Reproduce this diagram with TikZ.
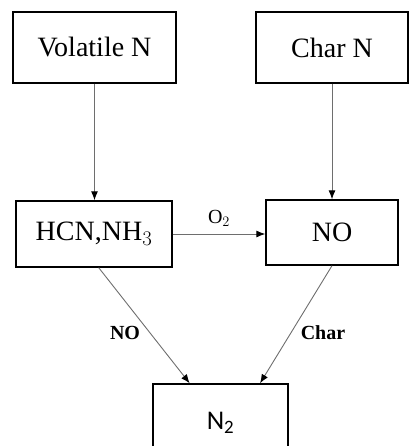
\documentclass[tikz,border=0pt]{standalone}
\usepackage{fontspec}
\setmainfont{Liberation Serif}
\newfontfamily\carl{Carlito}
\usetikzlibrary{arrows.meta,calc}
\tikzset{
  box/.style={draw=black,line width=1.4pt,rectangle,inner sep=0pt,font=\fontsize{28}{32}\selectfont},
  arr/.style={draw={rgb,255:red,110;green,110;blue,110},line width=0.9pt,-{Latex[length=9pt,width=7pt,black]}},
  lbl/.style={font=\bfseries\fontsize{20}{24}\selectfont,inner sep=0pt}
}
\begin{document}
\begin{tikzpicture}[x=1pt,y=-1pt]
\useasboundingbox (0,0) rectangle (409,446);
\begin{scope}
\clip (0,0) rectangle (409,446);
\node[box,minimum width=163pt,minimum height=71pt] (vol) at (94.5,47.5) {Volatile N};
\node[box,minimum width=152pt,minimum height=71pt] (charn) at (332,47.5) {Char N};
\node[box,minimum width=156pt,minimum height=66pt] (hcn) at (94,234) {HCN,NH$_3$};
\node[box,minimum width=132pt,minimum height=65pt] (no) at (332,232.5) {NO};
\node[box,minimum width=135pt,minimum height=78pt,font=\carl\fontsize{27}{30}\selectfont] (n2) at (220.5,423) {N\textsubscript{2}};
\end{scope}
\draw[arr] (vol.south) -- (vol.south |- hcn.north);
\draw[arr] (charn.south) -- (charn.south |- no.north);
\draw[arr] (hcn.east) -- (hcn.east -| no.west) node[midway,above=7pt,font=\fontsize{20}{24}\selectfont,inner sep=0pt] (o2) {O$_2$};
\draw[arr] ($(hcn.south west)!0.53!(hcn.south east)$) -- ($(n2.north west)!0.274!(n2.north east)$);
\draw[arr] (no.south) -- ($(n2.north west)!0.79!(n2.north east)$);
\node[lbl] (lno) at (125,333) {NO};
\node[lbl] (lchar) at (323,333) {Char};
\end{tikzpicture}
\end{document}
